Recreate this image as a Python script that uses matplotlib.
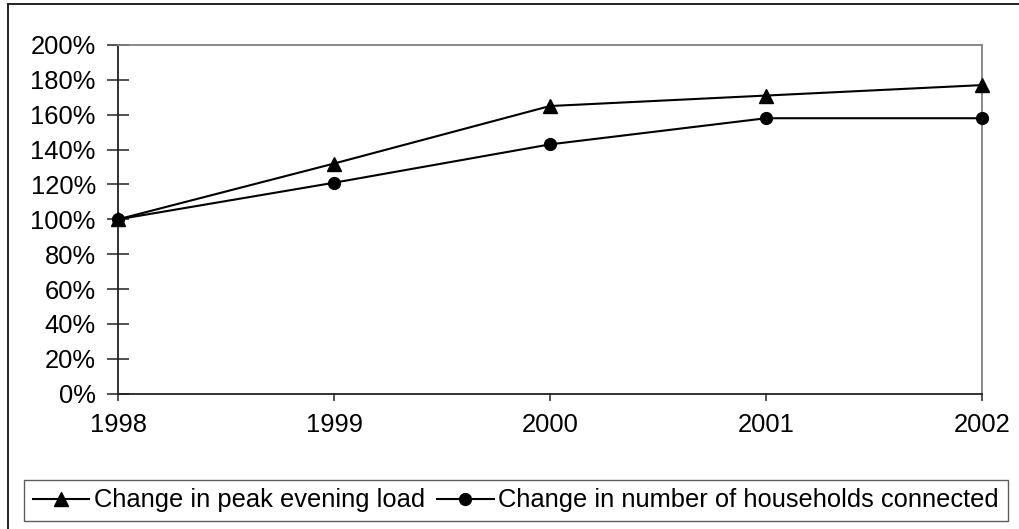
import matplotlib
matplotlib.use("Agg")
import matplotlib.pyplot as plt
from matplotlib.ticker import MultipleLocator, PercentFormatter
from matplotlib.lines import Line2D
from matplotlib import font_manager

years = [1998, 1999, 2000, 2001, 2002]
peak_load = [100, 132, 165, 171, 177]
households = [100, 121, 143, 158, 158]
series_labels = ["Change in peak evening load", "Change in number of households connected"]

W, H = 1019, 529
fig = plt.figure(figsize=(W / 100, H / 100), dpi=100)

available = {f.name for f in font_manager.fontManager.ttflist}
base_font = "Liberation Sans" if "Liberation Sans" in available else "DejaVu Sans"
plt.rcParams["font.family"] = [base_font, "DejaVu Sans"]

# plot area in pixel coordinates
x0, x1 = 118, 982
y_top, y_bot = 45, 393.7
ax = fig.add_axes([x0 / W, (H - y_bot) / H, (x1 - x0) / W, (y_bot - y_top) / H])

ax.plot(years, peak_load, color="black", lw=1.5, marker="^", markersize=10,
        label=series_labels[0], clip_on=False, zorder=3)
ax.plot(years, households, color="black", lw=1.5, marker="o", markersize=8.5,
        label=series_labels[1], clip_on=False, zorder=3)

ax.set_xlim(years[0], years[-1])
ax.set_ylim(0, 200)
ax.set_xticks(years)
ax.yaxis.set_major_locator(MultipleLocator(20))
ax.yaxis.set_major_formatter(PercentFormatter(xmax=100, decimals=0))

for side in ("top", "right"):
    ax.spines[side].set_color("#808080")
    ax.spines[side].set_linewidth(1.3)
for side in ("left", "bottom"):
    ax.spines[side].set_color("#222222")
    ax.spines[side].set_linewidth(1.3)

ax.tick_params(axis="y", direction="inout", length=16, width=1.1, color="#222222",
               labelsize=18.4, pad=8)
ax.tick_params(axis="x", direction="out", length=5, width=1.1, color="#222222",
               labelsize=18.4, pad=9)

leg_x0, leg_x1 = 24, 1011
leg_y0, leg_y1 = 478, 523
leg = fig.legend(loc="center left",
                 bbox_to_anchor=(leg_x0 / W, (H - (leg_y0 + leg_y1) / 2) / H),
                 ncol=2, frameon=True, fancybox=False, edgecolor="#333333",
                 prop={"family": [base_font, "DejaVu Sans"], "size": 18.35},
                 handlelength=2.2, handletextpad=0.18, columnspacing=0.5,
                 borderpad=0.35, borderaxespad=0)
leg.get_frame().set_linewidth(1.0)

# outer chart frame (left and top edges)
fig.add_artist(Line2D([8 / W, 8 / W], [0, 1 - 4 / H], color="#222222", lw=1.4,
                      transform=fig.transFigure))
fig.add_artist(Line2D([8 / W, 1], [1 - 4 / H, 1 - 4 / H], color="#222222", lw=1.4,
                      transform=fig.transFigure))

fig.savefig("out.png", dpi=100)
